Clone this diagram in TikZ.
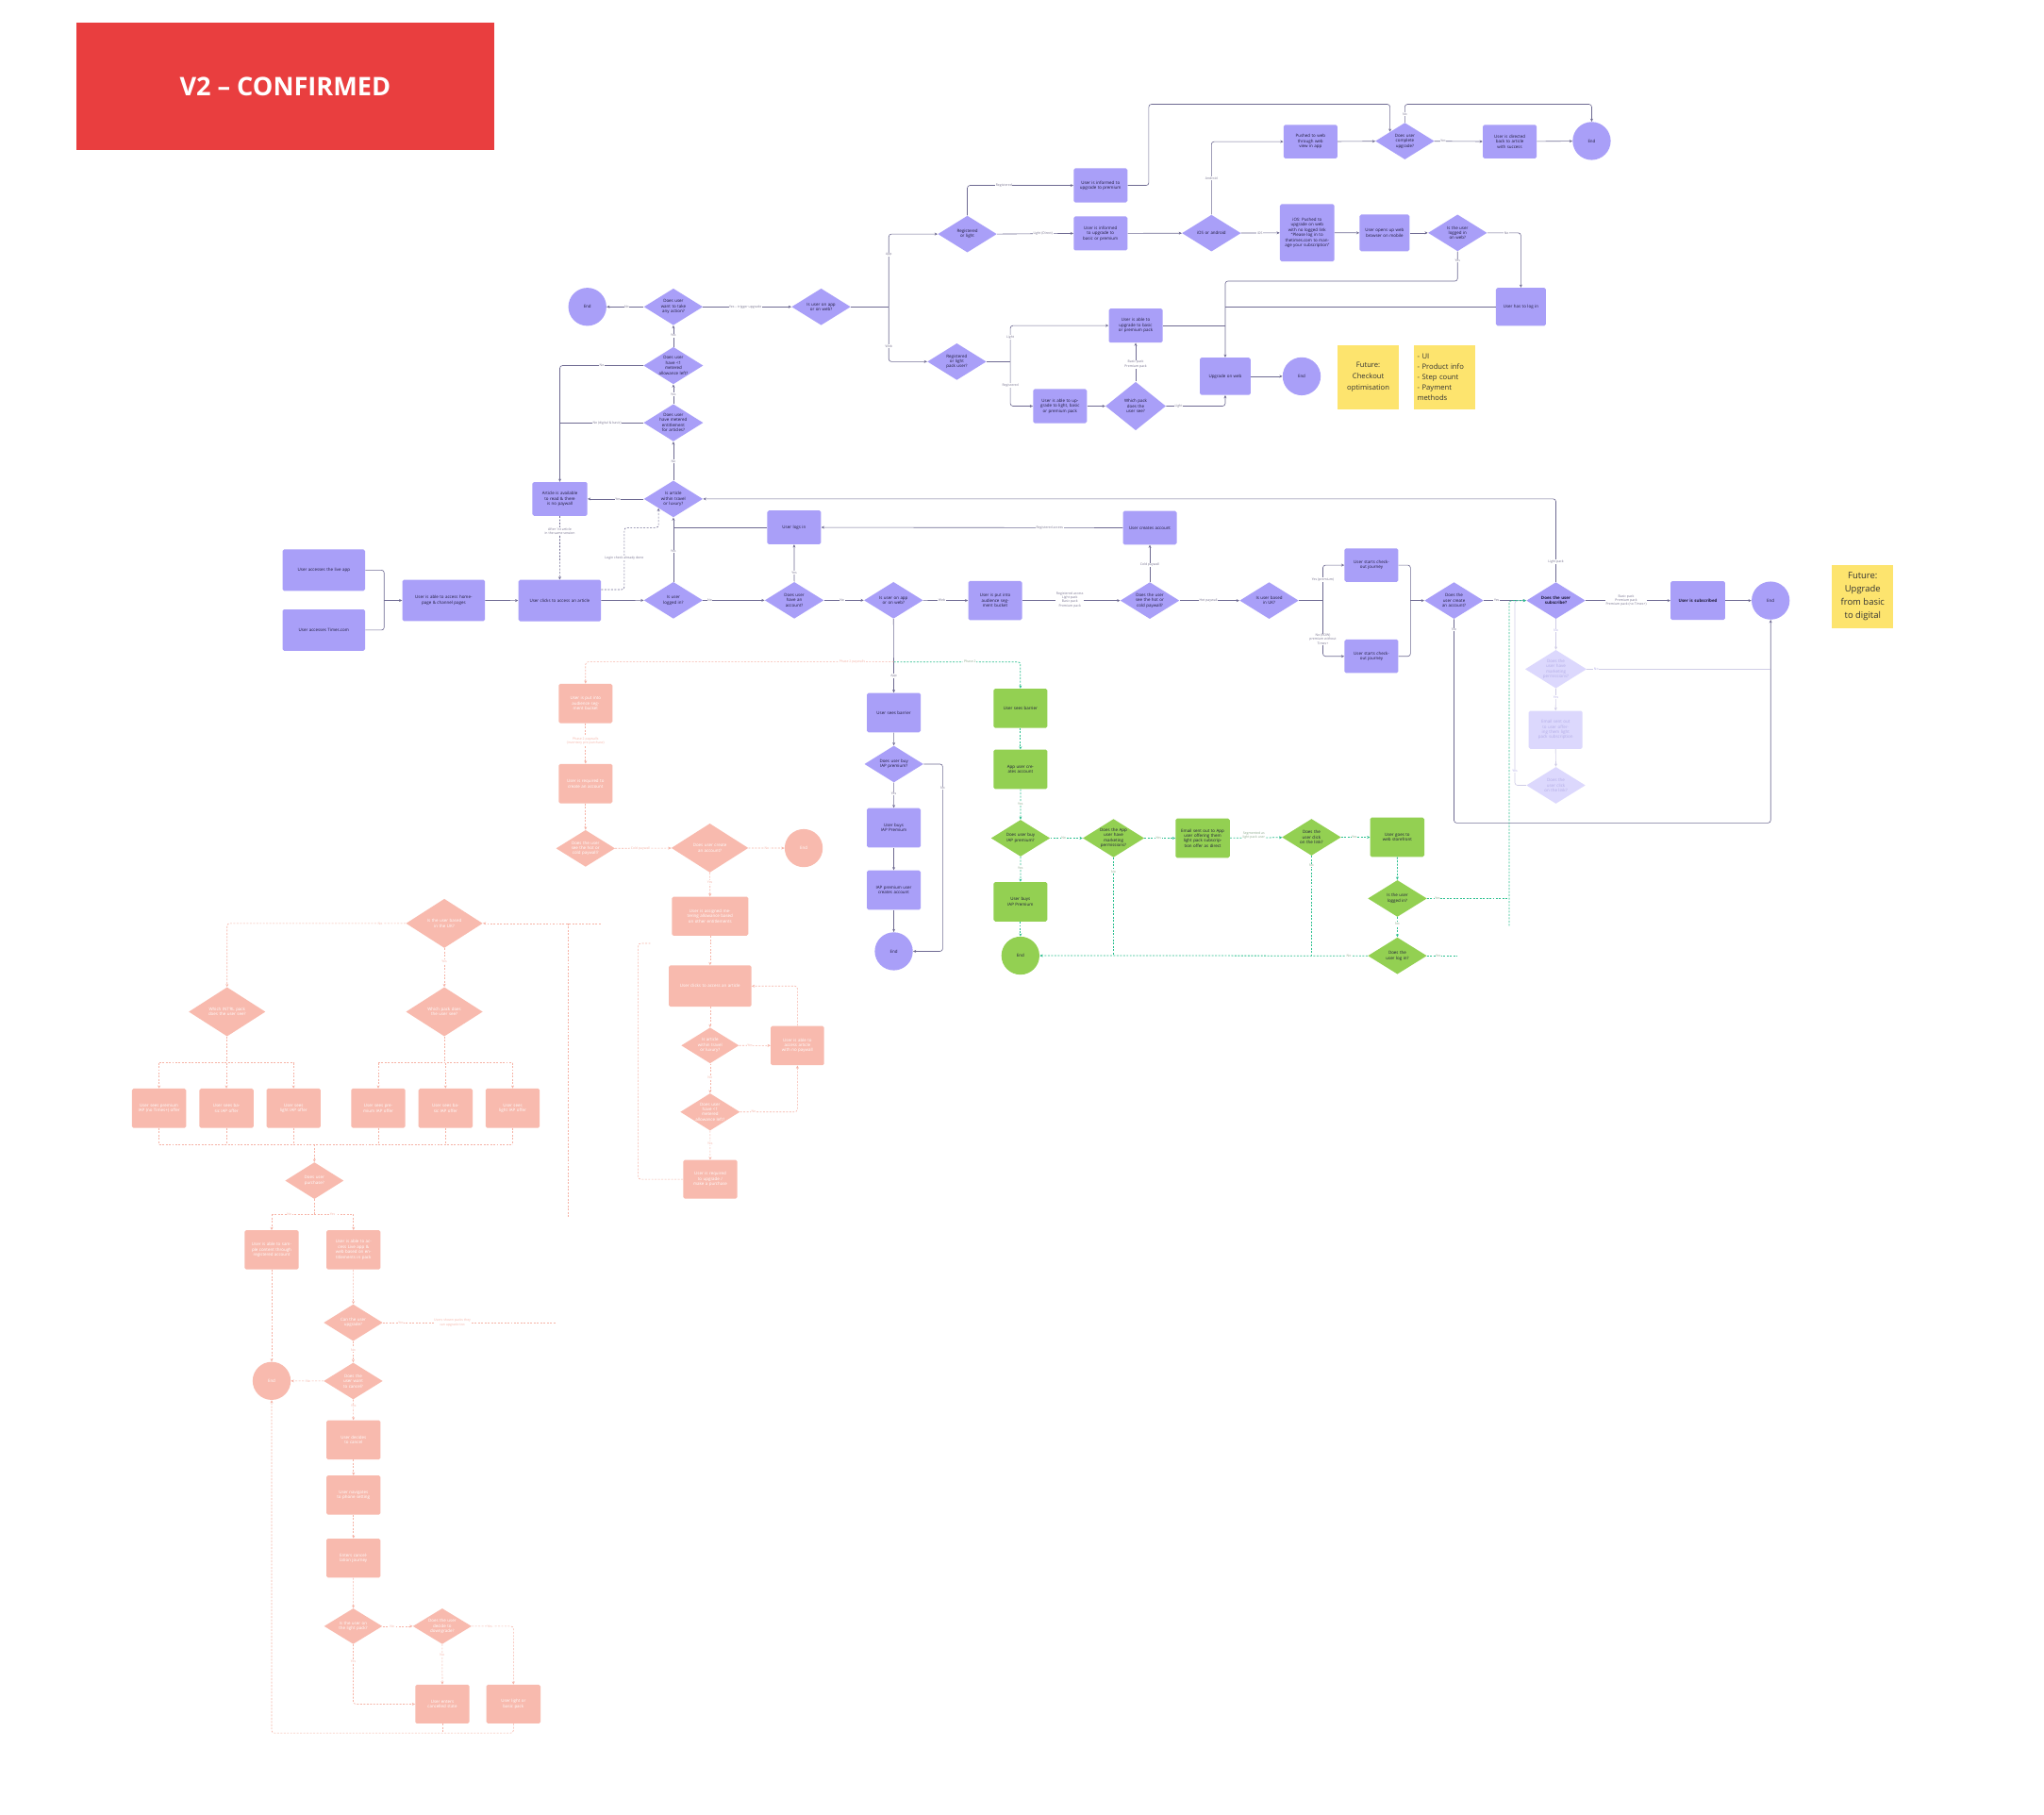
\documentclass[tikz,border=0pt]{standalone}
\usepackage{fontspec}
\setmainfont{Open Sans}
\usetikzlibrary{shapes.geometric,arrows.meta}
\definecolor{purp}{HTML}{A99FF8}
\definecolor{txt}{HTML}{1E1B3A}
\definecolor{lc}{HTML}{6E6A92}
\definecolor{labc}{HTML}{77738F}
\definecolor{fadef}{HTML}{DCD8FD}
\definecolor{fadet}{HTML}{B2ACE6}
\definecolor{fadel}{HTML}{CFCCE6}
\definecolor{grn}{HTML}{93D052}
\definecolor{tealc}{HTML}{2CC08F}
\definecolor{glabc}{HTML}{8AA88A}
\definecolor{salm}{HTML}{F8BAAE}
\definecolor{pinkl}{HTML}{F6B3A6}
\definecolor{yel}{HTML}{FDE46E}
\definecolor{redt}{HTML}{E93E3F}
\newcommand\fsN{\fontsize{3.2}{3.9}\selectfont}
\newcommand\fsL{\fontsize{2.5}{3.0}\selectfont}
\begin{document}
\begin{tikzpicture}[x=1pt,y=-1pt,
 nd/.style={inner sep=0pt, align=center, font=\fsN},
 pbox/.style={nd, rectangle, rounded corners=1.2pt, fill=purp, text=txt, minimum width=41pt, minimum height=26pt, text width=32pt},
 pdia/.style={nd, diamond, shape aspect=1.6, fill=purp, text=txt, minimum width=45pt, minimum height=28pt, text width=23pt},
 pend/.style={nd, circle, fill=purp, text=txt, minimum size=29pt},
 widebox/.style={minimum width=63pt, minimum height=31.5pt, text width=52pt},
 bigdia/.style={minimum width=58.5pt, minimum height=37.5pt, text width=31pt},
 gbox/.style={pbox, fill=grn, minimum height=30pt},
 gdia/.style={pdia, fill=grn},
 gend/.style={pend, fill=grn},
 fbox/.style={pbox, fill=fadef, text=fadet, minimum height=29pt},
 fdia/.style={pdia, fill=fadef, text=fadet},
 sbox/.style={pbox, fill=salm, text=white, minimum height=30pt},
 sdia/.style={pdia, fill=salm, text=white},
 send/.style={pend, fill=salm, text=white},
 lab/.style={font=\fsL, fill=white, inner sep=0.4pt, text=labc, align=center},
 glab/.style={lab, text=glabc},
 slab/.style={lab, text=pinkl},
 flab/.style={lab, text=fadet},
 pl/.style={draw=lc, line width=0.45pt, rounded corners=2pt},
 arr/.style={-{Stealth[length=2.3pt,width=2.1pt]}},
 dsh/.style={dash pattern=on 1.4pt off 1.1pt},
 tl/.style={draw=tealc, line width=0.55pt, dash pattern=on 1.4pt off 1.1pt, rounded corners=2pt},
 sl/.style={draw=pinkl, line width=0.45pt, dash pattern=on 1.4pt off 1.1pt, rounded corners=2pt},
 fl/.style={draw=fadel, line width=0.45pt, rounded corners=2pt},
 sticky/.style={rectangle, fill=yel, text=black!80, minimum width=47pt, minimum height=48.7pt, inner sep=0pt}
]
\fill[white] (0,0) rectangle (1559,1383.5);
\useasboundingbox (0,0) rectangle (1559,1383.5);

% title
\node[fill=redt, minimum width=319pt, minimum height=97pt, inner sep=0pt, text=white, font=\fontsize{19.5}{21}\selectfont\bfseries] (title) at (217.5,65.9) {V2 – CONFIRMED};

% ---------- top purple ----------
\node[pend] (endA) at (448,234) {End};
\node[pdia] (dWant) at (513.6,234) {Does user want to take any action?};
\node[pdia] (dAppWeb1) at (626.3,234) {Is user on app or on web?};
\node[pdia] (dRegLight) at (737.8,178.5) {Registered or light};
\node[pbox] (bInfPrem) at (839.4,141.4) {User is informed to upgrade to premium};
\node[pbox] (bInfBasic) at (839.4,178) {User is informed to upgrade to basic or premium};
\node[pdia] (dIos) at (924,177.8) {iOS or android};
\node[pbox, minimum height=25.6pt] (bPushed) at (999.5,108) {Pushed to web through web view in app};
\node[pdia] (dComplete) at (1071.5,107.6) {Does user complete upgrade?};
\node[pbox, minimum height=25.6pt] (bDirected) at (1151.5,108) {User is directed back to article with success};
\node[pend] (endB) at (1214,107.5) {End};
\node[pbox, minimum width=41.5pt, minimum height=43.6pt, text width=34pt] (bIos) at (997,177.5) {iOS: Pushed to upgrade on web with no logged link “Please log in to thetimes.com to manage your subscription”};
\node[pbox, minimum width=38pt, minimum height=28pt, text width=31pt] (bOpens) at (1056,177.6) {User opens up web browser on mobile};
\node[pdia] (dLoggedWeb) at (1111.7,177.6) {Is the user logged in on web?};
\node[pbox, minimum width=38pt, minimum height=29pt] (bHasLog) at (1160,234) {User has to log in};
\node[pdia] (dRegLightPack) at (729.8,275.8) {Registered or light pack user?};
\node[pbox] (bAbleBP) at (866.2,248.3) {User is able to upgrade to basic or premium pack};
\node[pbox] (bAbleLBP) at (808.5,309.7) {User is able to upgrade to light, basic or premium pack};
\node[pdia, minimum width=46pt, minimum height=37pt] (dWhichPack) at (866.2,309.7) {Which pack does the user see?};
\node[pbox, minimum width=38.6pt, minimum height=28.5pt] (bUpgWeb) at (934.5,287) {Upgrade on web};
\node[pend] (endC) at (992.8,287) {End};
\node[sticky, font=\fontsize{5.5}{8.6}\selectfont, align=center] (st1) at (1043.6,287.7) {Future:\\Checkout\\optimisation};
\node[sticky, font=\fontsize{5.5}{7.9}\selectfont, align=left, text width=42pt] (st2) at (1102,287.7) {- UI\\- Product info\\- Step count\\- Payment\\methods};

% column
\node[pdia] (dLess1) at (513.6,278.8) {Does user have <1 metered allowance left?};
\node[pdia] (dEnt) at (513.6,322.4) {Does user have metered entitlement for articles?};
\node[pdia] (dTravel) at (513.6,380.5) {Is article within travel or luxury?};
\node[pbox, minimum width=42pt, minimum height=25.7pt] (bArticle) at (427,380.5) {Article is available to read \& there is no paywall};

% ---------- middle row ----------
\node[pbox, widebox] (bLive) at (247,434.8) {User accesses the live app};
\node[pbox, widebox] (bTimes) at (247,480.5) {User accesses Times.com};
\node[pbox, widebox] (bHome) at (338.4,457.9) {User is able to access homepage \& channel pages};
\node[pbox, widebox] (bClicks) at (426.9,458) {User clicks to access an article};
\node[pdia] (dLoggedIn) at (513.6,457.8) {Is user logged in?};
\node[pdia] (dAccount) at (605.8,457.8) {Does user have an account?};
\node[pdia] (dAppWeb2) at (681.5,457.8) {Is user on app or on web?};
\node[pbox, minimum height=25.7pt] (bLogsIn) at (605.7,402.2) {User logs in};
\node[pbox, minimum height=29.7pt] (bAudience) at (759,458) {User is put into audience segment bucket};
\node[pdia] (dHotCold) at (877,458) {Does the user see the hot or cold paywall?};
\node[pbox, minimum height=25.7pt] (bCreates) at (877,402.5) {User creates account};
\node[pdia] (dUK) at (968,458) {Is user based in UK?};
\node[pbox, minimum height=25.5pt] (bCheck1) at (1046,431) {User starts checkout journey};
\node[pbox, minimum height=25.5pt] (bCheck2) at (1046,500.5) {User starts checkout journey};
\node[pdia] (dCreate) at (1109,458) {Does the user create an account?};
\node[pdia, font=\fsN\bfseries] (dSubscribe) at (1186.7,458) {Does the user subscribe?};
\node[pbox, minimum width=41.5pt, minimum height=29.6pt, font=\fsN\bfseries] (bSubscribed) at (1295,458) {User is subscribed};
\node[pend] (endD) at (1350.5,458) {End};
\node[sticky, minimum width=46.8pt, minimum height=48pt, font=\fontsize{6.8}{10}\selectfont, align=center] (st3) at (1420.7,455) {Future:\\Upgrade\\from basic\\to digital};
\node[fdia] (dMarket) at (1186.7,510.3) {Does the user have marketing permissions?};
\node[fbox] (bEmailF) at (1186.5,556.6) {Email sent out to user offering them light pack subscription};
\node[fdia] (dClickF) at (1186.7,598.9) {Does the user click on the link?};

% app column
\node[pbox, minimum height=30pt] (bBarrier) at (681.7,543.5) {User sees barrier};
\node[pdia] (dIAP) at (681.8,582.7) {Does user buy IAP premium?};
\node[pbox, minimum height=30pt] (bBuys) at (681.7,631.3) {User buys IAP Premium};
\node[pbox, minimum height=30pt] (bIAPacc) at (681.7,678.8) {IAP premium user creates account};
\node[pend] (endE) at (681.7,725.5) {End};

% green
\node[gbox] (gBarrier) at (778.3,540.2) {User sees barrier};
\node[gbox] (gCreate) at (778.3,586.7) {App user creates account};
\node[gdia] (dGIAP) at (778.4,639.2) {Does user buy IAP premium?};
\node[gbox] (gBuys) at (778.3,687.7) {User buys IAP Premium};
\node[gend] (gEnd) at (778.3,728.8) {End};
\node[gdia] (dGMarket) at (849.3,639.2) {Does the App user have marketing permissions?};
\node[gbox, minimum width=41.3pt, text width=34pt] (gEmail) at (917.3,639.2) {Email sent out to App user offering them light pack subscription offer as direct};
\node[gdia] (dGClick) at (1000.3,638.5) {Does the user click on the link?};
\node[gbox, minimum width=41.3pt] (gStore) at (1065.7,638.5) {User goes to web storefront};
\node[gdia] (dGLogged) at (1065.8,685.2) {Is the user logged in?};
\node[gdia] (dGLogIn) at (1065.8,728.9) {Does the user log in?};

% pink
\node[sbox] (pAudience) at (446.6,536.5) {User is put into audience segment bucket};
\node[sbox] (pRequired) at (446.6,597.6) {User is required to create an account};
\node[sdia] (dPHotCold) at (446.6,647) {Does the user see the hot or cold paywall?};
\node[sdia, minimum width=58.7pt, minimum height=37.4pt, text width=30pt] (dPCreate) at (541.4,646.7) {Does user create an account?};
\node[send] (pEnd) at (613,646.8) {End};
\node[sbox, minimum width=58.2pt, minimum height=29.7pt, text width=50pt] (pAssigned) at (541.6,698.7) {User is assigned metering allowance based on other entitlements};
\node[sbox, widebox] (pClicks) at (541.6,752) {User clicks to access an article};
\node[sdia, minimum width=44pt, minimum height=27.3pt] (dPTravel) at (541.6,797.3) {Is article within travel or luxury?};
\node[sbox, minimum width=40.7pt] (pNoPay) at (608.2,797.4) {User is able to access article with no paywall};
\node[sdia, minimum width=44pt, minimum height=27.3pt] (dPLess) at (541.6,848) {Does user have <1 metered allowance left?};
\node[sbox, minimum width=41.3pt, minimum height=29.4pt] (pReqUp) at (541.7,899.4) {User is required to upgrade / make a purchase};
\node[sdia, bigdia] (dPUK) at (338.9,704.2) {Is the user based in the UK?};
\node[sdia, bigdia] (dPIntl) at (173.2,771.6) {Which INT'RL pack does the user see?};
\node[sdia, bigdia] (dPWhich) at (338.9,771.6) {Which pack does the user see?};
\node[sbox, minimum width=41.3pt] (pO1) at (121.3,845.2) {User sees premium IAP (no Times+) offer};
\node[sbox, minimum width=41.3pt] (pO2) at (172.7,845.2) {User sees basic IAP offer};
\node[sbox, minimum width=41.3pt] (pO3) at (223.9,845.2) {User sees light IAP offer};
\node[sbox, minimum width=41.3pt] (pO4) at (288.5,845.2) {User sees premium IAP offer};
\node[sbox, minimum width=41.3pt] (pO5) at (339.8,845.2) {User sees basic IAP offer};
\node[sbox, minimum width=41.3pt] (pO6) at (391,845.2) {User sees light IAP offer};
\node[sdia, minimum width=44.6pt] (dPPurchase) at (239.8,900.4) {Does user purchase?};
\node[sbox, minimum width=41.3pt, minimum height=29.8pt] (pSample) at (207.2,953.2) {User is able to sample content through registered account};
\node[sbox, minimum width=41.3pt, minimum height=29.8pt, text width=35pt] (pAccess) at (269.6,953.2) {User is able to access Live app \& web based on entitlements in pack};
\node[sdia] (dPCanUp) at (269.4,1008.7) {Can the user upgrade?};
\node[send] (pEndB) at (207.2,1053.1) {End};
\node[sdia] (dPCancel) at (269.4,1053.2) {Does the user want to cancel?};
\node[sbox, minimum width=41.3pt, minimum height=29.8pt] (pDecides) at (269.6,1098.1) {User decides to cancel};
\node[sbox, minimum width=41.3pt, minimum height=29.8pt] (pNav) at (269.6,1140.2) {User navigates to phone setting};
\node[sbox, minimum width=41.3pt, minimum height=29.8pt] (pEnters) at (269.6,1188.3) {Enters cancellation journey};
\node[sdia, minimum width=44.4pt, minimum height=27.2pt] (dPLight) at (269.4,1240.2) {Is the user on the light pack?};
\node[sdia, minimum width=44.8pt, minimum height=27.2pt] (dPDown) at (337.3,1240.2) {Does the user decide to downgrade?};
\node[sbox, minimum width=41.3pt, minimum height=29.5pt] (pCancelled) at (337.4,1299.6) {User enters cancelled state};
\node[sbox, minimum width=41.3pt, minimum height=29.5pt] (pLB) at (391.6,1299.6) {User light or basic pack};

% ---------- edges: top ----------
\draw[pl,arr] (bInfPrem.east) -| (876.2,79.5) -| (dComplete.north west);
\draw[pl,arr] (dComplete.north) -- (1071.5,79.5) -| (endB.north);
\draw[pl,arr] (bPushed) -- (dComplete);
\draw[pl,arr] (dComplete) -- (bDirected);
\draw[pl,arr] (bDirected) -- (endB);
\draw[pl,arr] (dIos.north) |- (bPushed.west);
\draw[pl,arr] (dIos) -- (bIos);
\draw[pl,arr] (bIos) -- (bOpens);
\draw[pl,arr] (bOpens) -- (dLoggedWeb);
\draw[pl,arr] (dLoggedWeb.east) -| (bHasLog.north);
\draw[pl,arr] (dLoggedWeb.south) |- (934.5,214.4) -- (bUpgWeb.north);
\draw[pl] (bHasLog.west) -- (934.5,234);
\draw[pl,arr] (bInfBasic) -- (dIos);
\draw[pl,arr] (dRegLight.north) |- (bInfPrem.west);
\draw[pl,arr] (dRegLight.east) -- (bInfBasic.west);
\draw[pl] (dAppWeb1.east) -- (677.9,234);
\draw[pl,arr] (677.9,234) |- (dRegLight.west);
\draw[pl,arr] (677.9,234) |- (dRegLightPack.west);
\draw[pl,arr] (dWant) -- (dAppWeb1);
\draw[pl,arr] (dWant) -- (endA);
\draw[pl] (dRegLightPack.east) -- (770.6,275.8);
\draw[pl,arr] (770.6,275.8) |- (bAbleBP.west);
\draw[pl,arr] (770.6,275.8) |- (bAbleLBP.west);
\draw[pl,arr] (bAbleLBP) -- (dWhichPack);
\draw[pl,arr] (dWhichPack.north) -- (bAbleBP.south);
\draw[pl,arr] (dWhichPack.east) -| (bUpgWeb.south);
\draw[pl] (bAbleBP.east) -- (934.5,248.3);
\draw[pl,arr] (bUpgWeb) -- (endC);

% column
\draw[pl,arr] (dLess1.north) -- (dWant.south);
\draw[pl,arr] (dEnt.north) -- (dLess1.south);
\draw[pl,arr] (dTravel.north) -- (dEnt.south);
\draw[pl,arr] (dLess1.west) -| (bArticle.north);
\draw[pl] (dEnt.west) -- (427,322.4);
\draw[pl,arr] (dTravel.west) -- (bArticle.east);
\draw[pl,dsh,arr] (bArticle.south) -- (bClicks.north);
\draw[pl,dsh,arr] (bClicks.east |- 0,449.6) -| (476.2,402.4) -| (dTravel.south west);

% middle
\draw[pl] (bLive.east) -| (293,457.9);
\draw[pl] (bTimes.east) -| (293,457.9);
\draw[pl,arr] (293,457.9) -- (bHome.west);
\draw[pl,arr] (bHome) -- (bClicks);
\draw[pl,arr] (bClicks) -- (dLoggedIn);
\draw[pl,arr] (dLoggedIn) -- (dAccount);
\draw[pl,arr] (dLoggedIn.north) -- (dTravel.south);
\draw[pl,arr] (dAccount.north) -- (bLogsIn.south);
\draw[pl] (bLogsIn.west) -- (513.6,402.2);
\draw[pl,arr] (bCreates.west) -- (bLogsIn.east);
\draw[pl,arr] (dAccount) -- (dAppWeb2);
\draw[pl,arr] (dAppWeb2) -- (bAudience);
\draw[pl,arr] (bAudience) -- (dHotCold);
\draw[pl,arr] (dHotCold.north) -- (bCreates.south);
\draw[pl,arr] (dHotCold) -- (dUK);
\draw[pl] (dUK.east) -- (1009,458);
\draw[pl,arr] (1009,458) |- (bCheck1.west);
\draw[pl,arr] (1009,458) |- (bCheck2.west);
\draw[pl] (bCheck1.east) -| (1075.8,458);
\draw[pl] (bCheck2.east) -| (1075.8,458);
\draw[pl,arr] (1075.8,458) -- (dCreate.west);
\draw[pl,arr] (dCreate) -- (dSubscribe);
\draw[pl,arr] (dCreate.south) |- (1350.5,627.6) -- (endD.south);
\draw[pl,arr] (dSubscribe.north) |- (dTravel.east);
\draw[pl,arr] (dSubscribe) -- (bSubscribed);
\draw[pl,arr] (bSubscribed) -- (endD);
\draw[fl,arr] (dSubscribe.south) -- (dMarket.north);
\draw[fl,arr] (dMarket.south) -- (bEmailF.north);
\draw[fl,arr] (bEmailF.south) -- (dClickF.north);
\draw[fl] (dMarket.east) -- (1350.5,510.3);
\draw[fl,arr] (dClickF.west) -| (1155.4,458) -- (dSubscribe.west);

% app column
\draw[pl,arr] (dAppWeb2.south) -- (bBarrier.north);
\draw[pl,arr] (bBarrier) -- (dIAP);
\draw[pl,arr] (dIAP) -- (bBuys);
\draw[pl,arr] (bBuys) -- (bIAPacc);
\draw[pl,arr] (bIAPacc) -- (endE);
\draw[pl,arr] (dIAP.east) -| (719,725.5) -- (endE.east);

% phase 2 branches
\draw[tl,arr] (681.7,504.8) -| (gBarrier.north);
\draw[sl,arr] (681.7,504.8) -| (pAudience.north);

% green
\draw[tl,arr] (gBarrier) -- (gCreate);
\draw[tl,arr] (gCreate) -- (dGIAP);
\draw[tl,arr] (dGIAP) -- (dGMarket);
\draw[tl,arr] (dGIAP) -- (gBuys);
\draw[tl,arr] (gBuys) -- (gEnd);
\draw[tl,arr] (dGMarket) -- (gEmail);
\draw[tl] (dGMarket.south) -- (849.3,728.8);
\draw[tl,arr] (gEmail) -- (dGClick);
\draw[tl,arr] (dGClick) -- (gStore);
\draw[tl] (dGClick.south) -- (1000.3,728.8);
\draw[tl,arr] (dGLogIn.west) -- (gEnd.east);
\draw[tl,arr] (gStore) -- (dGLogged);
\draw[tl,arr] (dGLogged) -- (dGLogIn);
\draw[tl] (dGLogged.east) -- (1151,685.2);
\draw[tl,arr] (1151,706) |- (dSubscribe.west);
\draw[tl] (dGLogIn.east) -- (1111.5,728.9);

% pink
\draw[sl,arr] (pAudience) -- (pRequired);
\draw[sl,arr] (pRequired) -- (dPHotCold);
\draw[sl,arr] (dPHotCold) -- (dPCreate);
\draw[sl,arr] (dPCreate) -- (pEnd);
\draw[sl,arr] (dPCreate) -- (pAssigned);
\draw[sl,arr] (pAssigned) -- (pClicks);
\draw[sl,arr] (pClicks) -- (dPTravel);
\draw[sl,arr] (dPTravel) -- (pNoPay);
\draw[sl,arr] (dPTravel) -- (dPLess);
\draw[sl,arr] (dPLess.east) -| (pNoPay.south);
\draw[sl,arr] (pNoPay.north) |- (pClicks.east);
\draw[sl,arr] (dPLess) -- (pReqUp);
\draw[sl] (pReqUp.west) -| (486.8,719.4) -- (497,719.4);
\draw[sl,arr] (458,704.2) -- (dPUK.east);
\draw[sl] (433.6,704.2) -- (433.6,928);
\draw[sl,arr] (dPUK.west) -| (dPIntl.north);
\draw[sl,arr] (dPUK) -- (dPWhich);
\draw[sl] (dPIntl.south) -- (173.2,810.5);
\draw[sl] (121.3,810.5) -- (223.9,810.5);
\draw[sl] (dPWhich.south) -- (338.9,810.5);
\draw[sl] (288.5,810.5) -- (391,810.5);
\foreach \n/\x in {pO1/121.3,pO2/172.7,pO3/223.9,pO4/288.5,pO5/339.8,pO6/391}{
  \draw[sl,arr] (\x,810.5) -- (\n.north);
  \draw[sl] (\n.south) -- (\x,872.9);
}
\draw[sl] (121.3,872.9) -- (391,872.9);
\draw[sl,arr] (dPPurchase.north |- 0,872.9) -- (dPPurchase.north);
\draw[sl] (dPPurchase.south) -- (239.8,926.2);
\draw[sl] (207.2,926.2) -- (269.6,926.2);
\draw[sl,arr] (207.2,926.2) -- (pSample.north);
\draw[sl,arr] (269.6,926.2) -- (pAccess.north);
\draw[sl,arr] (pSample) -- (pEndB);
\draw[sl,arr] (pAccess) -- (dPCanUp);
\draw[sl] (dPCanUp.east) -- (424.5,1008.7);
\draw[sl,arr] (dPCanUp) -- (dPCancel);
\draw[sl,arr] (dPCancel) -- (pEndB);
\draw[sl,arr] (dPCancel) -- (pDecides);
\draw[sl,arr] (pDecides) -- (pNav);
\draw[sl,arr] (pNav) -- (pEnters);
\draw[sl,arr] (pEnters) -- (dPLight);
\draw[sl,arr] (dPLight) -- (dPDown);
\draw[sl,arr] (dPDown.east) -| (pLB.north);
\draw[sl,arr] (dPDown) -- (pCancelled);
\draw[sl,arr] (dPLight.south) |- (pCancelled.west);
\draw[sl] (pCancelled.south) -- (337.4,1321.7);
\draw[sl,arr] (pLB.south) |- (207.2,1321.7) -- (pEndB.south);

% ---------- labels ----------
\node[lab] (L1) at (1071.5,87) {No};
\node[lab] (L2) at (1100.7,107.6) {Yes};
\node[lab] (L3) at (924,136) {Android};
\node[lab] (L4) at (961,177.7) {iOS};
\node[lab] (L5) at (1149,177.6) {No};
\node[lab] (L6) at (1111.7,199) {Yes};
\node[lab] (L7) at (765.7,141.4) {Registered};
\node[lab] (L8) at (795.5,178.2) {Light (Direct)};
\node[lab] (L9) at (677.9,194.2) {App};
\node[lab] (L10) at (677.9,263.9) {Web};
\node[lab] (L11) at (478,234) {No};
\node[lab] (L12) at (568.5,234) {Yes – trigger upgrade};
\node[lab] (L13) at (770.6,257) {Light};
\node[lab] (L14) at (770.6,293.7) {Registered};
\node[lab] (L15) at (866.2,277.8) {Basic pack\\Premium pack};
\node[lab] (L16) at (899,309.7) {Light};
\node[lab] (L17) at (513.6,255.9) {Yes};
\node[lab] (L18) at (513.6,300.6) {Yes};
\node[lab] (L19) at (513.6,352) {No};
\node[lab] (L20) at (459,278.8) {No};
\node[lab] (L21) at (463,322.4) {No (digital \& basic)};
\node[lab] (L22) at (471.3,380.5) {Yes};
\node[lab] (L23) at (427,405) {After 1st article\\in the same session};
\node[lab] (L24) at (476.2,425.4) {Login check already done};
\node[lab] (L25) at (513.6,420.4) {Yes};
\node[lab] (L26) at (541.4,457.8) {No};
\node[lab] (L27) at (605.8,436.7) {Yes};
\node[lab] (L28) at (642.2,457.8) {No};
\node[lab] (L29) at (718.4,458) {Web};
\node[lab] (L30) at (816,457.5) {Registered access\\Light pack\\Basic pack\\Premium pack};
\node[lab] (L31) at (800.6,402.4) {Registered access};
\node[lab] (L32) at (877,431) {Cold paywall};
\node[lab] (L33) at (921.6,458) {Hot paywall};
\node[lab] (L34) at (1009,442) {Yes (premium)};
\node[lab] (L35) at (1009,487.5) {No (ROW)\\premium without\\Times+};
\node[lab] (L36) at (1141.5,458) {Yes};
\node[lab] (L37) at (1109,480.3) {No};
\node[lab] (L38) at (1186.7,428.5) {Light pack};
\node[lab] (L39) at (1240.3,458) {Basic pack\\Premium pack\\Premium pack (no Times+)};
\node[flab] (L40) at (1186.7,480.8) {No};
\node[flab] (L41) at (1186.7,531.7) {Yes};
\node[flab] (L42) at (1217.5,510.3) {No};
\node[flab] (L43) at (1155.4,588) {Yes};
\node[lab] (L44) at (681.7,515.6) {App};
\node[lab] (L45) at (681.7,605.5) {Yes};
\node[lab] (L46) at (719,601.2) {No};
\node[glab] (L47) at (739.8,504.8) {Phase 2};
\node[slab] (L48) at (650,504.8) {Phase 2 paywalls};
\node[glab] (L49) at (778.3,613) {Yes};
\node[glab] (L50) at (811.3,639.2) {No};
\node[glab] (L51) at (778.3,662) {Yes};
\node[glab] (L52) at (883.7,639.2) {Yes};
\node[glab] (L53) at (849.3,664.7) {No};
\node[glab] (L54) at (956.3,637) {Segmented as\\light pack user};
\node[glab] (L55) at (1033,638.5) {Yes};
\node[glab] (L56) at (1000.3,660.2) {No};
\node[glab] (L57) at (1096.4,685.2) {Yes};
\node[glab] (L58) at (1065.8,704.5) {No};
\node[glab] (L59) at (1028.8,728.9) {No};
\node[glab] (L60) at (1097,728.9) {Yes};
\node[slab] (L61) at (446.6,565) {Phase 2 paywalls\\(inventory pre-purchase)};
\node[slab] (L62) at (488.5,647) {Cold paywall};
\node[slab] (L63) at (584.8,646.8) {No};
\node[slab] (L64) at (541.5,672.6) {Yes};
\node[slab] (L65) at (572,797.4) {Yes};
\node[slab] (L66) at (541.6,821.6) {No};
\node[slab] (L67) at (574.8,848) {No};
\node[slab] (L68) at (541.6,871.9) {Yes};
\node[slab] (L69) at (290,704.2) {No};
\node[slab] (L70) at (338.9,733.1) {Yes};
\node[slab] (L71) at (220.6,926.2) {No};
\node[slab] (L72) at (253.7,926.2) {Yes};
\node[slab] (L73) at (305.8,1008.7) {Yes};
\node[slab] (L74) at (345,1008.7) {Users shown packs they\\can upgrade too};
\node[slab] (L75) at (269.4,1029.5) {No};
\node[slab] (L76) at (235,1053.1) {No};
\node[slab] (L77) at (269.6,1072.3) {Yes};
\node[slab] (L78) at (299,1240.2) {No};
\node[slab] (L79) at (373.6,1240.2) {Yes};
\node[slab] (L80) at (337.3,1262) {No};
\node[slab] (L81) at (269.4,1267) {Yes};
\end{tikzpicture}
\end{document}
